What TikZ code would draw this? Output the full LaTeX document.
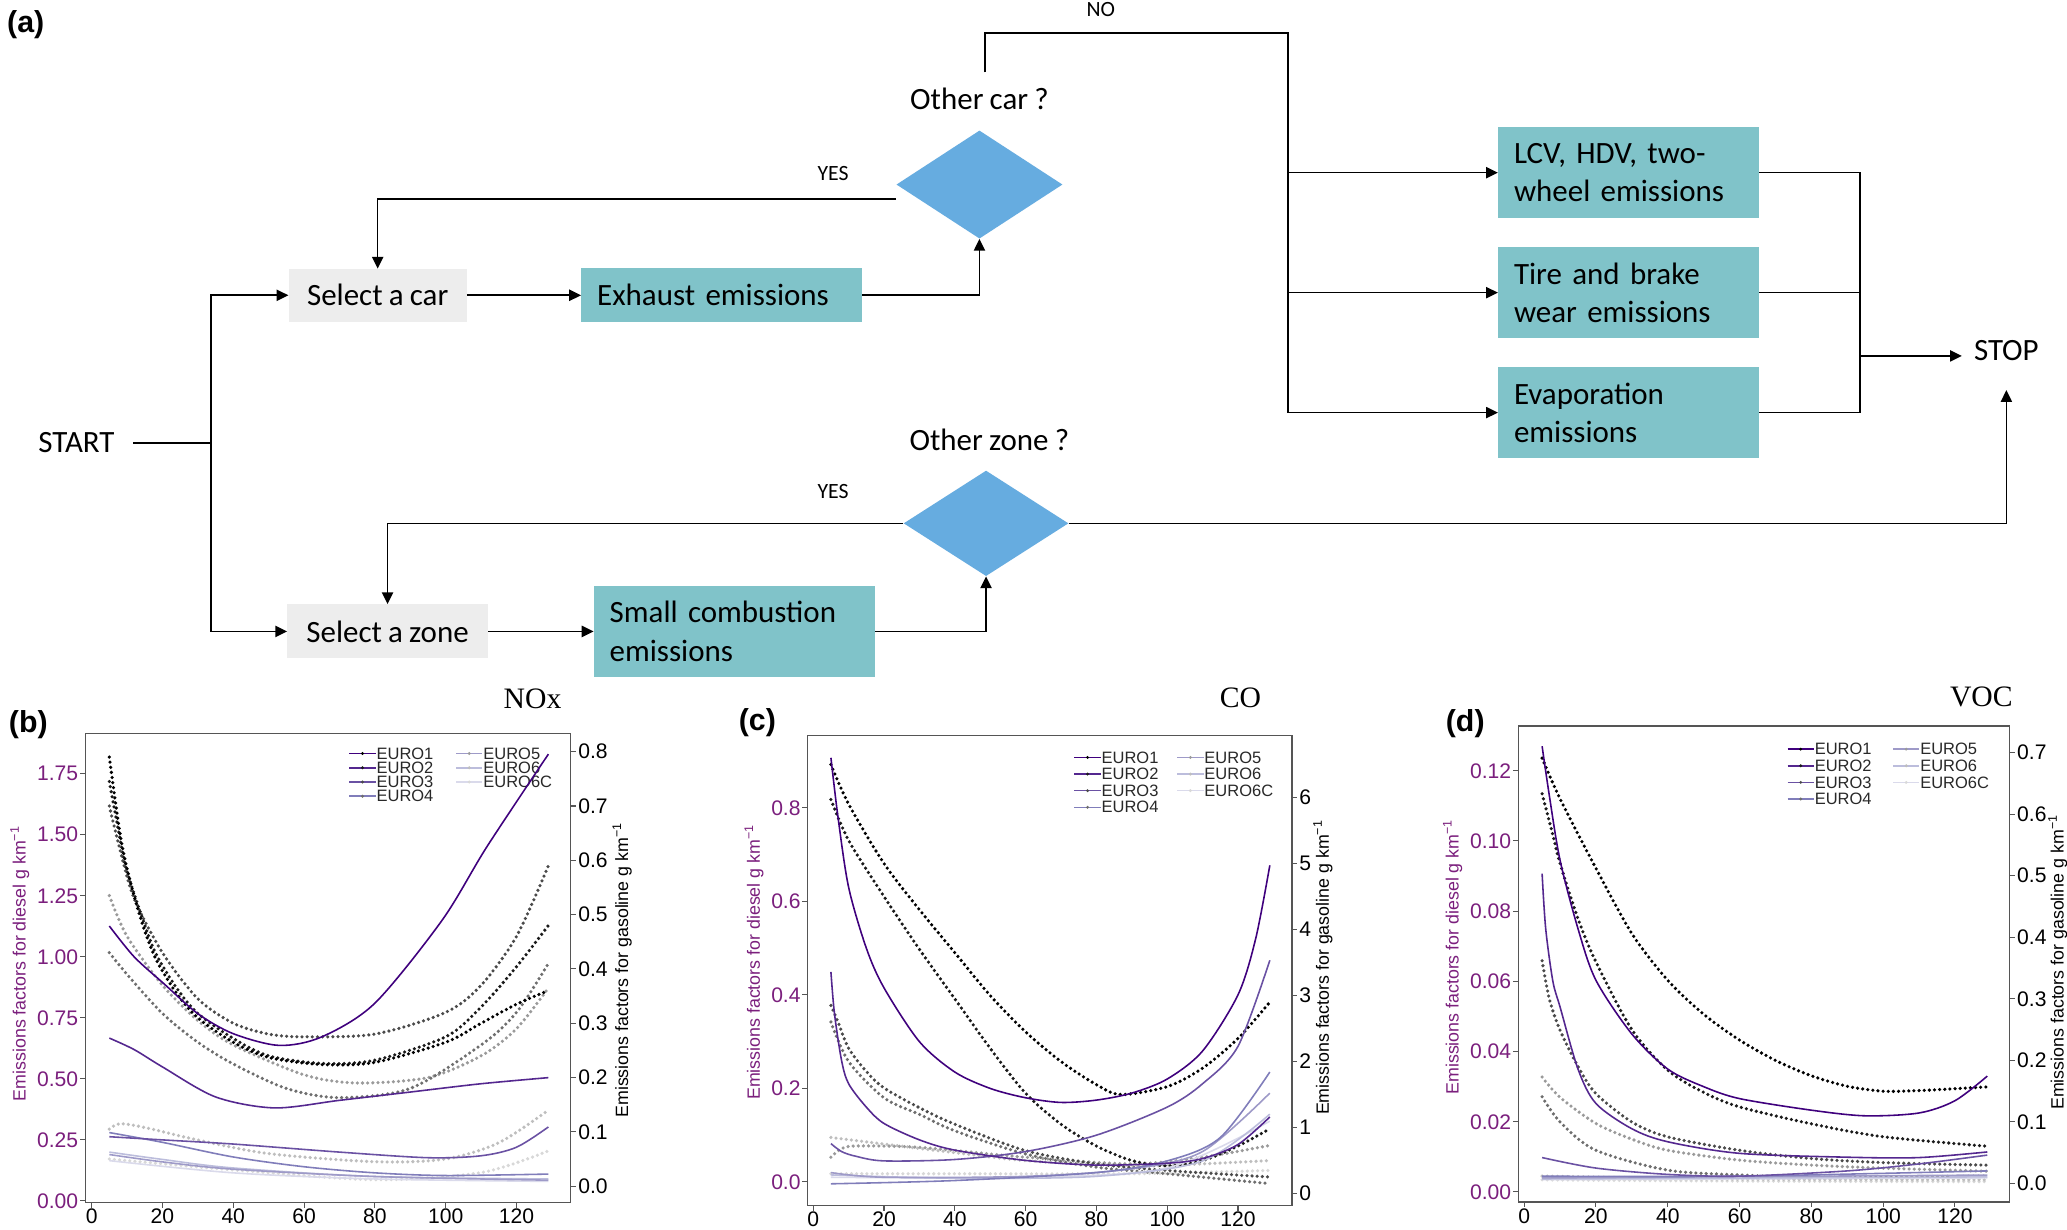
\documentclass[tikz,border=0pt]{standalone}
\usepackage{fontspec}
\newfontfamily\flowf{Carlito}[WordSpace=0.88]
\newfontfamily\lsans{Liberation Sans}
\newfontfamily\lserif{Liberation Serif}
\usetikzlibrary{shapes.geometric,arrows.meta}
\definecolor{tealbox}{RGB}{128,195,201}
\definecolor{dblue}{RGB}{102,172,224}
\definecolor{lgraybox}{RGB}{237,237,237}
\definecolor{axpurple}{RGB}{123,31,125}
\definecolor{frgray}{RGB}{85,85,85}
\definecolor{legtext}{RGB}{40,40,40}
\definecolor{pA}{HTML}{3F007D}
\definecolor{pB}{HTML}{54278F}
\definecolor{pC}{HTML}{6A51A3}
\definecolor{pD}{HTML}{807DBA}
\definecolor{pE}{HTML}{9E9AC8}
\definecolor{pF}{HTML}{BCBDDC}
\definecolor{pG}{HTML}{DADAEB}
\definecolor{gA}{HTML}{000000}
\definecolor{gB}{HTML}{1A1A1A}
\definecolor{gC}{HTML}{4A4A4A}
\definecolor{gD}{HTML}{6E6E6E}
\definecolor{gE}{HTML}{9A9A9A}
\definecolor{gF}{HTML}{BEBEBE}
\definecolor{gG}{HTML}{D8D8D8}
\begin{document}
\begin{tikzpicture}[x=1pt,y=-1pt,
  fl/.style={line width=1.2pt, draw=black},
  arr/.style={-{Triangle[length=9pt,width=8.5pt]}},
  flowtxt/.style={font=\flowf\fontsize{23.5}{29}\selectfont, inner sep=0pt},
  smalltxt/.style={font=\flowf\fontsize{16.5}{18}\selectfont, inner sep=0pt},
  graybox/.style={flowtxt, fill=lgraybox, minimum height=40pt},
  tbox/.style={flowtxt, fill=tealbox, align=left, inner xsep=12pt, inner ysep=0pt},
  diam/.style={diamond, fill=dblue, inner sep=0pt},
  pframe/.style={draw=frgray, line width=1pt},
  tk/.style={draw=frgray, line width=0.8pt},
  ticklab/.style={font=\lsans\fontsize{16}{17}\selectfont, inner sep=0pt},
  axlab/.style={font=\lsans\fontsize{13.5}{14}\selectfont, inner sep=0pt},
  leg/.style={font=\lsans\fontsize{12.5}{13}\selectfont, inner sep=0pt, text=legtext, anchor=west},
  ttl/.style={font=\lserif\fontsize{22.5}{24}\selectfont, inner sep=0pt},
  plab/.style={font=\lsans\bfseries\fontsize{23}{24}\selectfont, inner sep=0pt},
  dln/.style={line width=1.2pt},
  gdot/.style={line width=2.7pt, line cap=round, dash pattern=on 0pt off 3.9pt},
]
\useasboundingbox (0,0) rectangle (1568,933);
\fill[white] (0,0) rectangle (1568,933);

% ================= (a) flowchart =================
\node[plab] (pa) at (19.5,19) {(a)};
\node[flowtxt, inner xsep=14pt] (start) at (58,336) {START};
\coordinate (split) at (160,336);
\node[graybox, minimum width=135pt] (selcar) at (286.5,224) {Select a car};
\node[tbox, text width=189pt, minimum height=41pt] (exh) at (547.5,224) {Exhaust emissions};
\node[diam, minimum width=126pt, minimum height=82pt] (oc) at (743,140) {};
\node[flowtxt] (oclab) at (743,75) {Other car ?};
\coordinate (nostart) at (747,55);
\coordinate (nocorner) at (977,25);
\node[smalltxt] (nolab) at (835,7) {NO};
\node[smalltxt] (yes1) at (632,132) {YES};
\node[tbox, text width=174pt, minimum height=69.5pt] (lcv) at (1235.5,131) {LCV, HDV, two-\\wheel emissions};
\node[tbox, text width=174pt, minimum height=69.5pt] (tire) at (1235.5,222) {Tire and brake\\wear emissions};
\node[tbox, text width=174pt, minimum height=69.5pt] (evap) at (1235.5,313) {Evaporation\\emissions};
\coordinate (mrg) at (1411,270);
\node[flowtxt, inner xsep=9pt, inner ysep=22pt] (stop) at (1522,266) {STOP};
\node[graybox, minimum width=152pt, minimum height=41pt] (selzone) at (294,479) {Select a zone};
\node[tbox, text width=189pt, minimum height=69pt] (sce) at (557,479) {Small combustion\\emissions};
\node[diam, minimum width=125pt, minimum height=80pt] (oz) at (748,397) {};
\node[flowtxt] (ozlab) at (750.5,334) {Other zone ?};
\node[smalltxt] (yes2) at (632,373) {YES};

\draw[fl] (start) -- (split);
\draw[fl,arr] (split) |- (selcar);
\draw[fl,arr] (split) |- (selzone);
\draw[fl,arr] (selcar) -- (exh);
\draw[fl,arr] (exh) -| (oc);
\draw[fl,arr] ([yshift=-11pt]oc.west) -| (selcar);
\draw[fl,arr] (nostart) |- (nocorner) |- (evap);
\draw[fl,arr] (nocorner |- lcv) -- (lcv);
\draw[fl,arr] (nocorner |- tire) -- (tire);
\draw[fl] (lcv) -| (mrg);
\draw[fl] (evap) -| (mrg);
\draw[fl] (tire) -- (tire -| mrg);
\draw[fl,arr] (mrg) -- (mrg -| stop.west);
\draw[fl,arr] (selzone) -- (sce);
\draw[fl,arr] (sce) -| (oz);
\draw[fl,arr] (oz) -| (selzone);
\draw[fl,arr] (oz) -| (stop);

% ================= (b) NOx =================
\node[plab] (pb) at (21.5,549.5) {(b)};
\node[ttl] (tb) at (404,530) {NOx};
\draw[pframe] (64.8,556.4) rectangle (433,912);
\foreach \v [count=\i] in {0,20,40,60,80,100,120} {
  \draw[tk] ({69.5+2.686*\v},912) -- ++(0,4);
  \node[ticklab, anchor=north] (bx\i) at ({69.5+2.686*\v},917) {\v};
}
\foreach \v/\t [count=\i] in {0/0.00,0.25/0.25,0.5/0.50,0.75/0.75,1/1.00,1.25/1.25,1.5/1.50,1.75/1.75} {
  \draw[tk] (64.8,{911-185.2*\v}) -- ++(-4,0);
  \node[ticklab, text=axpurple, anchor=east] (bl\i) at (59.5,{911-185.2*\v}) {\t};
}
\foreach \v [count=\i] in {0.0,0.1,0.2,0.3,0.4,0.5,0.6,0.7,0.8} {
  \draw[tk] (433,{899.8-412*\v}) -- ++(4,0);
  \node[ticklab, anchor=west] (br\i) at (438.5,{899.8-412*\v}) {\v};
}
\node[axlab, text=axpurple, rotate=90] (bly) at (15,731) {Emissions factors for diesel g km\textsuperscript{−1}};
\node[axlab, rotate=90] (bry) at (472,736) {Emissions factors for gasoline g km\textsuperscript{−1}};
\foreach \c/\g/\t [count=\i] in {pA/gA/EURO1,pB/gB/EURO2,pC/gC/EURO3,pD/gD/EURO4} {
  \draw[\c, line width=1.2pt] (265,{571.6+10.8*(\i-1)}) -- ++(20,0);
  \fill[\g] (275,{571.6+10.8*(\i-1)}) circle (1.2pt);
  \node[leg] (lb\i) at (285.5,{571.6+10.8*(\i-1)}) {\t};
}
\foreach \c/\g/\t [count=\i] in {pE/gE/EURO5,pF/gF/EURO6,pG/gG/EURO6C} {
  \draw[\c, line width=1.2pt] (346,{571.6+10.8*(\i-1)}) -- ++(20,0);
  \fill[\g] (356,{571.6+10.8*(\i-1)}) circle (1.2pt);
  \node[leg] (lbb\i) at (366.5,{571.6+10.8*(\i-1)}) {\t};
}
\begin{scope}[shift={(69.5,899.8)}, x=2.686pt, y=412pt]
\draw[gdot,gG] plot[smooth] coordinates {(5,0.05)(40,0.03)(80,0.012)(110,0.025)(129,0.065)};
\draw[gdot,gF] plot[smooth] coordinates {(5,0.105)(8,0.115)(15,0.108)(30,0.085)(50,0.06)(80,0.045)(100,0.05)(115,0.08)(129,0.14)};
\draw[gdot,gE] plot[smooth] coordinates {(5,0.535)(10,0.46)(20,0.37)(30,0.305)(40,0.26)(60,0.205)(75,0.19)(95,0.2)(110,0.24)(120,0.29)(129,0.365)};
\draw[gdot,gD] plot[smooth] coordinates {(5,0.43)(10,0.39)(20,0.318)(30,0.265)(40,0.225)(55,0.18)(70,0.163)(90,0.18)(110,0.26)(120,0.32)(129,0.41)};
\draw[gdot,gC] plot[smooth] coordinates {(5,0.70)(8,0.62)(12,0.53)(20,0.43)(30,0.345)(40,0.3)(50,0.28)(60,0.275)(80,0.28)(100,0.32)(110,0.37)(120,0.46)(129,0.59)};
\draw[gdot,gB] plot[smooth] coordinates {(5,0.745)(8,0.64)(10,0.58)(14,0.5)(18,0.43)(24,0.365)(30,0.318)(40,0.272)(50,0.24)(65,0.226)(80,0.232)(100,0.275)(110,0.33)(120,0.404)(129,0.48)};
\draw[gdot,gA] plot[smooth] coordinates {(5,0.79)(8,0.65)(10.4,0.574)(14,0.49)(18,0.42)(24,0.355)(30,0.31)(40,0.265)(50,0.237)(65,0.224)(80,0.228)(100,0.265)(110,0.3)(120,0.335)(129,0.36)};
\end{scope}
\begin{scope}[shift={(69.5,911)}, x=2.686pt, y=185.2pt]
\draw[dln,pG] plot[smooth] coordinates {(5,0.165)(40,0.115)(80,0.09)(129,0.08)};
\draw[dln,pF] plot[smooth] coordinates {(5,0.2)(20,0.17)(40,0.135)(80,0.1)(129,0.09)};
\draw[dln,pE] plot[smooth] coordinates {(5,0.19)(20,0.16)(40,0.13)(80,0.1)(129,0.085)};
\draw[dln,pD] plot[smooth] coordinates {(5,0.28)(20,0.24)(40,0.18)(60,0.14)(80,0.115)(100,0.104)(129,0.11)};
\draw[dln,pC] plot[smooth] coordinates {(5,0.263)(20,0.25)(40,0.233)(70,0.2)(95,0.177)(110,0.185)(120,0.22)(129,0.303)};
\draw[dln,pB] plot[smooth] coordinates {(5,0.667)(12,0.62)(20,0.549)(35,0.426)(51.6,0.381)(70,0.412)(90,0.446)(110,0.48)(129,0.505)};
\draw[dln,pA] plot[smooth] coordinates {(5,1.126)(12,1.0)(20.4,0.89)(30,0.767)(40,0.685)(53,0.637)(65,0.672)(80,0.81)(99,1.15)(111.6,1.45)(129,1.83)};
\end{scope}

% ================= (c) CO =================
\node[plab] (pc) at (574.5,548.5) {(c)};
\node[ttl] (tc) at (941,529) {CO};
\draw[pframe] (612.5,557.7) rectangle (980.1,914.3);
\foreach \v [count=\i] in {0,20,40,60,80,100,120} {
  \draw[tk] ({616.9+2.685*\v},914.3) -- ++(0,4);
  \node[ticklab, anchor=north] (cx\i) at ({616.9+2.685*\v},919) {\v};
}
\foreach \v/\t [count=\i] in {0/0.0,0.2/0.2,0.4/0.4,0.6/0.6,0.8/0.8} {
  \draw[tk] (612.5,{896.6-354.75*\v}) -- ++(-4,0);
  \node[ticklab, text=axpurple, anchor=east] (cl\i) at (607.5,{896.6-354.75*\v}) {\t};
}
\foreach \v [count=\i] in {0,1,2,3,4,5,6} {
  \draw[tk] (980.1,{905.4-50.07*\v}) -- ++(4,0);
  \node[ticklab, anchor=west] (cr\i) at (985.5,{905.4-50.07*\v}) {\v};
}
\node[axlab, text=axpurple, rotate=90] (cly) at (572,730) {Emissions factors for diesel g km\textsuperscript{−1}};
\node[axlab, rotate=90] (cry) at (1003.6,734) {Emissions factors for gasoline g km\textsuperscript{−1}};
\foreach \c/\g/\t [count=\i] in {pA/gA/EURO1,pB/gB/EURO2,pC/gC/EURO3,pD/gD/EURO4} {
  \draw[\c, line width=1.2pt] (815,{574.6+12.6*(\i-1)}) -- ++(20,0);
  \fill[\g] (825,{574.6+12.6*(\i-1)}) circle (1.2pt);
  \node[leg] (lc\i) at (835.5,{574.6+12.6*(\i-1)}) {\t};
}
\foreach \c/\g/\t [count=\i] in {pE/gE/EURO5,pF/gF/EURO6,pG/gG/EURO6C} {
  \draw[\c, line width=1.2pt] (893,{574.6+12.6*(\i-1)}) -- ++(20,0);
  \fill[\g] (903,{574.6+12.6*(\i-1)}) circle (1.2pt);
  \node[leg] (lcc\i) at (913.5,{574.6+12.6*(\i-1)}) {\t};
}
\begin{scope}[shift={(616.9,905.4)}, x=2.685pt, y=50.07pt]
\draw[gdot,gG] plot[smooth] coordinates {(5,0.3)(40,0.3)(90,0.3)(129,0.35)};
\draw[gdot,gF] plot[smooth] coordinates {(5,0.85)(20,0.75)(40,0.62)(60,0.5)(90,0.42)(110,0.45)(129,0.5)};
\draw[gdot,gE] plot[smooth] coordinates {(5,0.55)(8,0.68)(12,0.72)(30,0.7)(60,0.55)(90,0.45)(110,0.55)(129,0.73)};
\draw[gdot,gD] plot[smooth] coordinates {(5,2.6)(10,2.0)(20,1.45)(30,1.2)(40,0.95)(60,0.6)(80,0.4)(100,0.3)(129,0.15)};
\draw[gdot,gC] plot[smooth] coordinates {(5,2.85)(7,2.6)(10,2.2)(15,1.85)(20,1.6)(30,1.3)(40,1.05)(60,0.65)(80,0.45)(100,0.35)(129,0.25)};
\draw[gdot,gB] plot[smooth] coordinates {(5,5.97)(10,5.35)(20,4.5)(30,3.7)(40,2.95)(50,2.2)(60,1.52)(70,1.05)(80,0.72)(90,0.5)(100,0.42)(110,0.5)(120,0.72)(129,0.98)};
\draw[gdot,gA] plot[smooth] coordinates {(5,6.5)(10,5.9)(20,5.0)(30,4.3)(40,3.65)(50,3.0)(60,2.45)(70,2.0)(80,1.65)(87,1.5)(100,1.62)(110,1.9)(120,2.35)(129,2.9)};
\end{scope}
\begin{scope}[shift={(616.9,896.6)}, x=2.685pt, y=354.75pt]
\draw[dln,pG] plot[smooth] coordinates {(5,0.01)(60,0.01)(100,0.03)(129,0.13)};
\draw[dln,pF] plot[smooth] coordinates {(5,0.015)(40,0.008)(80,0.012)(110,0.045)(129,0.145)};
\draw[dln,pE] plot[smooth] coordinates {(5,0.02)(20,0.01)(60,0.012)(90,0.028)(110,0.065)(129,0.19)};
\draw[dln,pD] plot[smooth] coordinates {(5,-0.004)(40,0.003)(80,0.02)(100,0.045)(115,0.095)(129,0.235)};
\draw[dln,pC] plot[smooth] coordinates {(5,0.082)(8,0.065)(12,0.055)(20,0.045)(40,0.048)(60,0.065)(80,0.1)(100,0.16)(110,0.21)(120,0.29)(129,0.474)};
\draw[dln,pB] plot[smooth] coordinates {(5,0.449)(6,0.36)(8,0.26)(10,0.21)(15,0.16)(20,0.125)(30,0.09)(40,0.068)(60,0.046)(80,0.036)(100,0.04)(110,0.05)(120,0.08)(129,0.139)};
\draw[dln,pA] plot[smooth] coordinates {(5,0.907)(7,0.78)(10,0.63)(15,0.5)(20,0.415)(30,0.3)(40,0.235)(50,0.2)(60,0.18)(70,0.17)(80,0.175)(90,0.19)(100,0.22)(110,0.28)(120,0.4)(125,0.52)(129,0.677)};
\end{scope}

% ================= (d) VOC =================
\node[plab] (pd) at (1111.5,549.3) {(d)};
\node[ttl] (td) at (1503,529) {VOC};
\draw[pframe] (1151.8,550.8) rectangle (1524.5,911.7);
\foreach \v [count=\i] in {0,20,40,60,80,100,120} {
  \draw[tk] ({1156.2+2.7233*\v},911.7) -- ++(0,4);
  \node[ticklab, anchor=north] (dx\i) at ({1156.2+2.7233*\v},917) {\v};
}
\foreach \v/\t [count=\i] in {0/0.00,0.02/0.02,0.04/0.04,0.06/0.06,0.08/0.08,0.1/0.10,0.12/0.12} {
  \draw[tk] (1151.8,{904.2-2662.5*\v}) -- ++(-4,0);
  \node[ticklab, text=axpurple, anchor=east] (dl\i) at (1146.5,{904.2-2662.5*\v}) {\t};
}
\foreach \v [count=\i] in {0.0,0.1,0.2,0.3,0.4,0.5,0.6,0.7} {
  \draw[tk] (1524.5,{897.8-467*\v}) -- ++(4,0);
  \node[ticklab, anchor=west] (dr\i) at (1530,{897.8-467*\v}) {\v};
}
\node[axlab, text=axpurple, rotate=90] (dly) at (1102,726) {Emissions factors for diesel g km\textsuperscript{−1}};
\node[axlab, rotate=90] (dry) at (1561,730) {Emissions factors for gasoline g km\textsuperscript{−1}};
\foreach \c/\g/\t [count=\i] in {pA/gA/EURO1,pB/gB/EURO2,pC/gC/EURO3,pD/gD/EURO4} {
  \draw[\c, line width=1.2pt] (1356,{568.3+12.6*(\i-1)}) -- ++(20,0);
  \fill[\g] (1366,{568.3+12.6*(\i-1)}) circle (1.2pt);
  \node[leg] (ld\i) at (1376.5,{568.3+12.6*(\i-1)}) {\t};
}
\foreach \c/\g/\t [count=\i] in {pE/gE/EURO5,pF/gF/EURO6,pG/gG/EURO6C} {
  \draw[\c, line width=1.2pt] (1436,{568.3+12.6*(\i-1)}) -- ++(20,0);
  \fill[\g] (1446,{568.3+12.6*(\i-1)}) circle (1.2pt);
  \node[leg] (ldd\i) at (1456.5,{568.3+12.6*(\i-1)}) {\t};
}
\begin{scope}[shift={(1156.2,897.8)}, x=2.7233pt, y=467pt]
\draw[gdot,gG] plot[smooth] coordinates {(5,0.006)(60,0.004)(129,0.003)};
\draw[gdot,gF] plot[smooth] coordinates {(5,0.012)(60,0.007)(129,0.006)};
\draw[gdot,gE] plot[smooth] coordinates {(5,0.173)(10,0.14)(20,0.0975)(30,0.072)(40,0.054)(60,0.038)(80,0.03)(100,0.025)(129,0.02)};
\draw[gdot,gD] plot[smooth] coordinates {(5,0.141)(10,0.1)(20,0.054)(40,0.0217)(60,0.014)(80,0.01)(129,0.012)};
\draw[gdot,gC] plot[smooth] coordinates {(5,0.362)(7,0.3)(10,0.249)(15,0.19)(20,0.146)(30,0.1)(40,0.0758)(60,0.054)(80,0.0406)(100,0.034)(129,0.0298)};
\draw[gdot,gB] plot[smooth] coordinates {(5,0.633)(8,0.566)(10,0.52)(15,0.43)(20,0.36)(30,0.25)(40,0.184)(50,0.148)(60,0.1245)(80,0.097)(100,0.076)(129,0.0606)};
\draw[gdot,gA] plot[smooth] coordinates {(5,0.691)(10,0.625)(20,0.512)(30,0.406)(40,0.33)(50,0.275)(60,0.233)(70,0.2)(80,0.175)(90,0.158)(100,0.15)(110,0.151)(120,0.154)(129,0.157)};
\end{scope}
\begin{scope}[shift={(1156.2,904.2)}, x=2.7233pt, y=2662.5pt]
\draw[dln,pG] plot[smooth] coordinates {(5,0.0035)(129,0.004)};
\draw[dln,pF] plot[smooth] coordinates {(5,0.0037)(129,0.0043)};
\draw[dln,pE] plot[smooth] coordinates {(5,0.004)(129,0.0048)};
\draw[dln,pD] plot[smooth] coordinates {(5,0.0045)(60,0.0045)(129,0.006)};
\draw[dln,pC] plot[smooth] coordinates {(5,0.0098)(20,0.0068)(40,0.005)(60,0.0045)(90,0.006)(110,0.008)(129,0.0105)};
\draw[dln,pB] plot[smooth] coordinates {(5,0.0907)(6,0.075)(8,0.06)(10,0.0527)(15,0.035)(20,0.0252)(30,0.018)(40,0.0143)(60,0.011)(90,0.0099)(110,0.0098)(129,0.0114)};
\draw[dln,pA] plot[smooth] coordinates {(5,0.127)(7,0.113)(10,0.0945)(15,0.075)(20,0.0603)(30,0.045)(40,0.035)(50,0.03)(60,0.0266)(80,0.0233)(95,0.0217)(110,0.0225)(120,0.026)(129,0.033)};
\end{scope}
\end{tikzpicture}
\end{document}
